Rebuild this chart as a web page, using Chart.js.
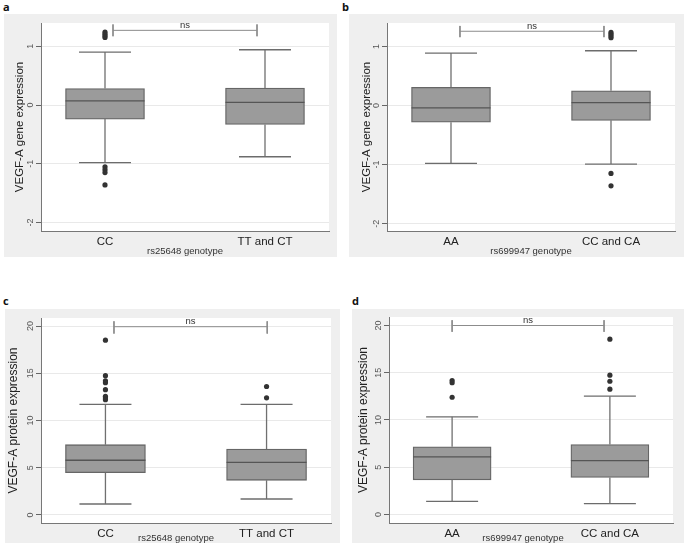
<!DOCTYPE html>
<html>
<head>
<meta charset="utf-8">
<script src="https://cdn.jsdelivr.net/npm/chart.js@4.4.1/dist/chart.umd.min.js"></script>
<style>
  body { margin: 0; width: 685px; height: 546px; background: #fff; position: relative; overflow: hidden; }
  .panel { position: absolute; background: #efefef; }
  .panel canvas { display: block; }
  .tag { position: absolute; font: bold 11px "Open Sans", sans-serif; line-height: 11px; color: #111; }
</style>
</head>
<body>
<div class="tag" style="left:3px;top:1px">a</div>
<div class="tag" style="left:342px;top:1px">b</div>
<div class="tag" style="left:3px;top:295px">c</div>
<div class="tag" style="left:352px;top:295px">d</div>

<div class="panel" style="left:4px;top:14px;width:333px;height:243px"><canvas id="chartA" width="333" height="243"></canvas></div>
<div class="panel" style="left:349px;top:14px;width:335px;height:243px"><canvas id="chartB" width="335" height="243"></canvas></div>
<div class="panel" style="left:5px;top:309px;width:335px;height:234px"><canvas id="chartC" width="335" height="234"></canvas></div>
<div class="panel" style="left:352px;top:309px;width:332px;height:234px"><canvas id="chartD" width="332" height="234"></canvas></div>

<script>
// panel a: VEGF-A gene expression by rs25648
const aCats = ['CC', 'TT and CT'];
const aQ1 = [-0.24, -0.33];
const aMed = [0.07, 0.045];
const aQ3 = [0.28, 0.29];
const aLow = [-0.98, -0.88];
const aHigh = [0.90, 0.94];
const aOut1 = [1.15, 1.18, 1.21, 1.24, -1.05, -1.10, -1.15, -1.36];
const aOut2 = [];
const aTicks = [-2, -1, 0, 1];
const aBracket = [1.05, 1.95, 1.27, 1.37, 1.17];

// panel b: VEGF-A gene expression by rs699947
const bCats = ['AA', 'CC and CA'];
const bQ1 = [-0.28, -0.25];
const bMed = [-0.04, 0.05];
const bQ3 = [0.31, 0.25];
const bLow = [-0.98, -0.99];
const bHigh = [0.89, 0.93];
const bOut1 = [];
const bOut2 = [1.15, 1.18, 1.21, 1.24, -1.15, -1.36];
const bTicks = [-2, -1, 0, 1];
const bBracket = [1.056, 1.956, 1.26, 1.35, 1.16];

// panel c: VEGF-A protein expression by rs25648
const cCats = ['CC', 'TT and CT'];
const cQ1 = [4.48, 3.67];
const cMed = [5.79, 5.57];
const cQ3 = [7.44, 6.98];
const cLow = [1.16, 1.69];
const cHigh = [11.7, 11.7];
const cOut1 = [18.5, 14.74, 14.2, 14.0, 13.26, 12.56, 12.38, 12.2];
const cOut2 = [13.6, 12.4];
const cTicks = [0, 5, 10, 15, 20];
const cBracket = [1.053, 2.004, 19.93, 20.5, 19.2];

// panel d: VEGF-A protein expression by rs699947
const dCats = ['AA', 'CC and CA'];
const dQ1 = [3.67, 3.92];
const dMed = [6.1, 5.71];
const dQ3 = [7.16, 7.41];
const dLow = [1.38, 1.16];
const dHigh = [10.34, 12.52];
const dOut1 = [14.18, 13.94, 12.41];
const dOut2 = [18.55, 14.74, 14.1, 13.26];
const dTicks = [0, 5, 10, 15, 20];
const dBracket = [1.0, 1.963, 20.0, 20.56, 19.33];

Chart.defaults.font.family = '"Liberation Sans", Arial, sans-serif';

const panelDeco = {
  id: 'panelDeco',
  beforeDraw(chart) {
    const a = chart.chartArea;
    const ctx = chart.ctx;
    ctx.save();
    ctx.fillStyle = '#ffffff';
    ctx.fillRect(a.left, a.top, a.right - a.left, a.bottom - a.top);
    ctx.restore();
  },
  afterDraw(chart, args, o) {
    const ctx = chart.ctx;
    const a = chart.chartArea;
    const xs = chart.scales.x;
    const ys = chart.scales.y;
    ctx.save();
    // rotated y tick labels, like Stata's default
    ctx.fillStyle = '#555';
    ctx.font = '9px "Liberation Sans", Arial, sans-serif';
    ctx.textAlign = 'center';
    ctx.textBaseline = 'middle';
    ys.ticks.forEach(t => {
      ctx.save();
      ctx.translate(a.left - 10.5, ys.getPixelForValue(t.value));
      ctx.rotate(-Math.PI / 2);
      ctx.fillText(String(t.value), 0, 0);
      ctx.restore();
    });
    // ns label over the bracket
    const br = o.bracket;
    ctx.fillStyle = '#333';
    ctx.font = '9.5px "Liberation Sans", Arial, sans-serif';
    ctx.textBaseline = 'alphabetic';
    ctx.fillText('ns', xs.getPixelForValue((br[0] + br[1]) / 2), ys.getPixelForValue(br[2]) - 2.5);
    // x axis title
    ctx.textBaseline = 'middle';
    ctx.fillText(o.xTitle, (a.left + a.right) / 2 + o.titleShift, chart.height - o.titleBottom);
    ctx.restore();
  }
};

function makePanel(id, p) {
  const idx = p.cats.map((c, i) => i + 1);

  const whiskers = [];
  idx.forEach((x, i) => {
    whiskers.push({x: x, y: p.high[i]}, {x: x, y: p.q3[i]}, {x: x, y: null});
    whiskers.push({x: x, y: p.q1[i]}, {x: x, y: p.low[i]}, {x: x, y: null});
  });
  const caps = idx.flatMap((x, i) => [{x: x, y: p.low[i]}, {x: x, y: p.high[i]}]);
  const outliers = p.out1.map(v => ({x: 1, y: v})).concat(p.out2.map(v => ({x: 2, y: v})));
  const br = p.bracket;
  const bracket = [
    {x: br[0], y: br[3]}, {x: br[0], y: br[4]}, {x: br[0], y: null},
    {x: br[0], y: br[2]}, {x: br[1], y: br[2]}, {x: br[1], y: null},
    {x: br[1], y: br[3]}, {x: br[1], y: br[4]}
  ];

  return new Chart(document.getElementById(id), {
    type: 'bar',
    data: {
      datasets: [
        {
          type: 'bar',
          data: idx.map((x, i) => ({x: x, y: [p.q1[i], p.q3[i]]})),
          backgroundColor: '#9b9b9b',
          borderColor: '#666666',
          borderWidth: 1.3,
          borderSkipped: false,
          barThickness: p.boxWidth,
          order: 3
        },
        {
          type: 'line',
          data: whiskers,
          borderColor: '#707070',
          borderWidth: 1.3,
          pointRadius: 0,
          spanGaps: false,
          order: 2
        },
        {
          type: 'scatter',
          data: caps,
          pointStyle: 'line',
          pointRadius: 26,
          pointBorderColor: '#6c6c6c',
          pointBorderWidth: 1.3,
          order: 1
        },
        {
          type: 'scatter',
          data: idx.map((x, i) => ({x: x, y: p.med[i]})),
          pointStyle: 'line',
          pointRadius: p.boxWidth / 2,
          pointBorderColor: '#555555',
          pointBorderWidth: 1.3,
          order: 0
        },
        {
          type: 'scatter',
          data: outliers,
          pointStyle: 'circle',
          pointRadius: 2.6,
          pointBackgroundColor: '#333333',
          pointBorderWidth: 0,
          order: 0
        },
        {
          type: 'line',
          data: bracket,
          borderColor: '#8c8c8c',
          borderWidth: 1,
          pointRadius: 0,
          spanGaps: false,
          order: 1
        }
      ]
    },
    options: {
      responsive: false,
      devicePixelRatio: 1,
      animation: false,
      events: [],
      layout: { padding: p.pad, autoPadding: false },
      plugins: {
        legend: { display: false },
        tooltip: { enabled: false },
        panelDeco: { bracket: br, xTitle: p.xTitle, titleShift: p.titleShift, titleBottom: p.titleBottom }
      },
      scales: {
        x: {
          type: 'linear',
          min: 0.6,
          max: 2.4,
          offset: false,
          grid: { display: false, drawTicks: false },
          border: { color: '#777', width: 1 },
          ticks: {
            autoSkip: false,
            maxRotation: 0,
            padding: 4,
            color: '#222',
            font: { size: 11.5 },
            callback: v => p.cats[Math.round(v) - 1] || ''
          },
          afterBuildTicks: s => { s.ticks = idx.map(v => ({value: v})); },
          afterFit: s => { s.height = p.xHeight; }
        },
        y: {
          type: 'linear',
          min: p.yMin,
          max: p.yMax,
          grid: { color: '#e9e9e9', lineWidth: 1, tickColor: '#666', tickLength: 5 },
          border: { color: '#777', width: 1 },
          ticks: { display: false },
          title: {
            display: true,
            text: p.yTitle,
            color: '#222',
            font: { size: p.yTitleSize },
            padding: { top: p.yTitlePad, bottom: 0 }
          },
          afterBuildTicks: s => { s.ticks = p.ticks.map(v => ({value: v})); },
          afterFit: s => { s.width = p.yWidth; }
        }
      }
    },
    plugins: [panelDeco]
  });
}

makePanel('chartA', {
  cats: aCats, q1: aQ1, med: aMed, q3: aQ3, low: aLow, high: aHigh,
  out1: aOut1, out2: aOut2, ticks: aTicks, bracket: aBracket,
  yMin: -2.143, yMax: 1.395, yTitle: 'VEGF-A gene expression', xTitle: 'rs25648 genotype',
  pad: { top: 9, right: 8, left: 0, bottom: 0 }, yWidth: 37, xHeight: 26,
  yTitleSize: 11.5, yTitlePad: 8.5, titleShift: 0, titleBottom: 6, boxWidth: 79
});

makePanel('chartB', {
  cats: bCats, q1: bQ1, med: bMed, q3: bQ3, low: bLow, high: bHigh,
  out1: bOut1, out2: bOut2, ticks: bTicks, bracket: bBracket,
  yMin: -2.125, yMax: 1.40, yTitle: 'VEGF-A gene expression', xTitle: 'rs699947 genotype',
  pad: { top: 9, right: 9, left: 0, bottom: 0 }, yWidth: 38, xHeight: 26,
  yTitleSize: 11.5, yTitlePad: 11, titleShift: 0, titleBottom: 6, boxWidth: 79
});

makePanel('chartC', {
  cats: cCats, q1: cQ1, med: cMed, q3: cQ3, low: cLow, high: cHigh,
  out1: cOut1, out2: cOut2, ticks: cTicks, bracket: cBracket,
  yMin: -0.85, yMax: 20.85, yTitle: 'VEGF-A protein expression', xTitle: 'rs25648 genotype',
  pad: { top: 9, right: 9, left: 0, bottom: 0 }, yWidth: 36, xHeight: 20,
  yTitleSize: 12, yTitlePad: 1.5, titleShift: -10, titleBottom: 5, boxWidth: 80
});

makePanel('chartD', {
  cats: dCats, q1: dQ1, med: dMed, q3: dQ3, low: dLow, high: dHigh,
  out1: dOut1, out2: dOut2, ticks: dTicks, bracket: dBracket,
  yMin: -0.9, yMax: 20.9, yTitle: 'VEGF-A protein expression', xTitle: 'rs699947 genotype',
  pad: { top: 8, right: 11, left: 0, bottom: 0 }, yWidth: 37, xHeight: 20,
  yTitleSize: 12, yTitlePad: 4, titleShift: -8, titleBottom: 5, boxWidth: 78
});
</script>
</body>
</html>
